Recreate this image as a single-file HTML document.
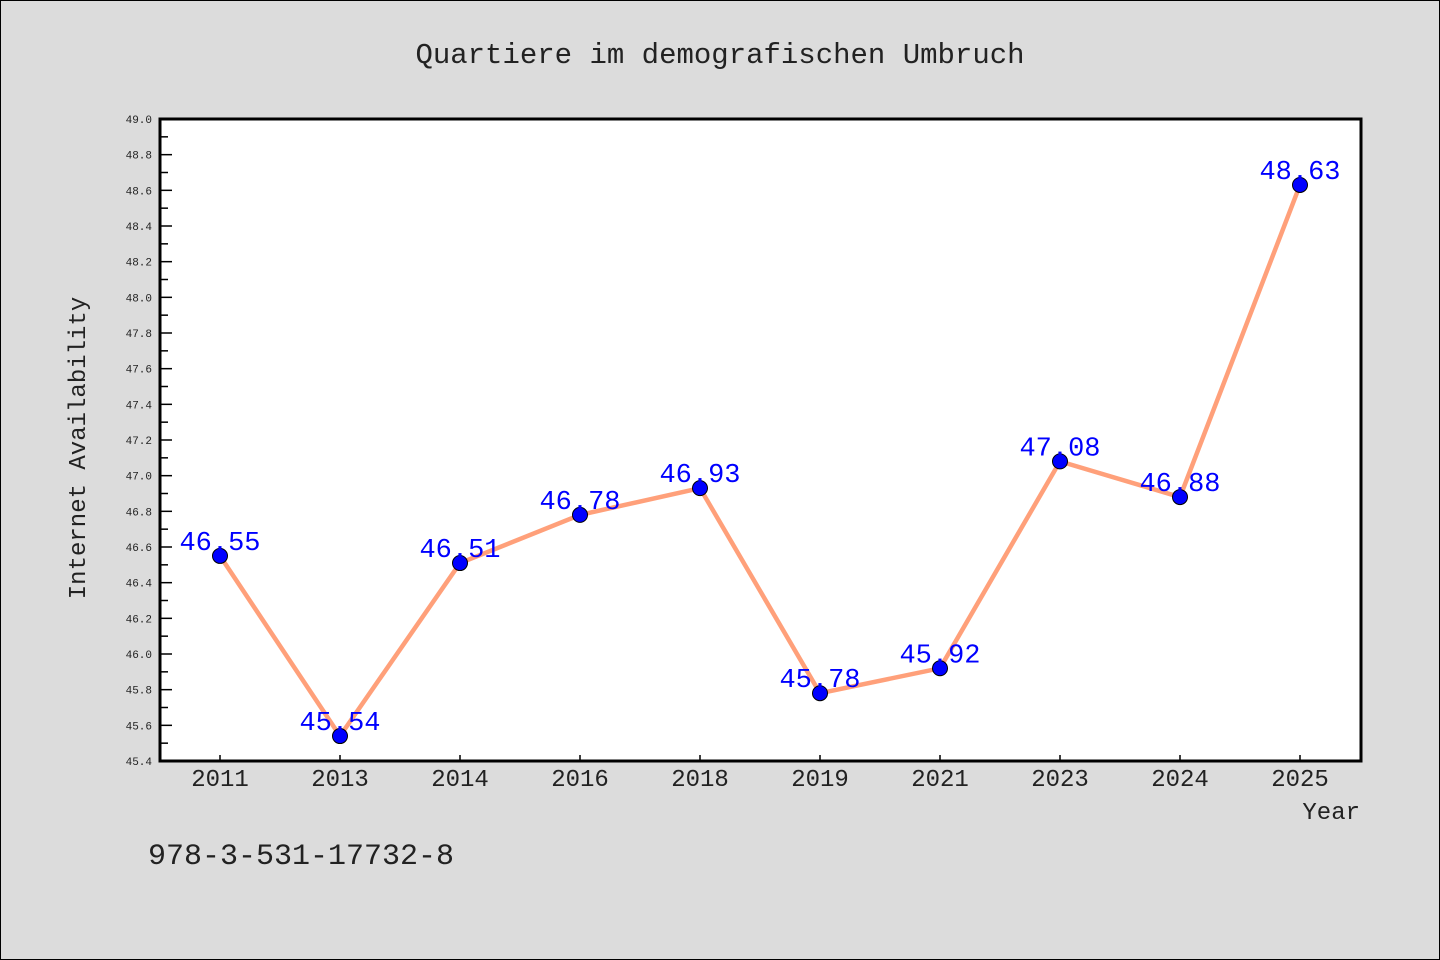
<!DOCTYPE html>
<html><head><meta charset="utf-8"><style>
html,body{margin:0;padding:0;background:#dcdcdc;}
svg{display:block;font-family:"WenQuanYi Zen Hei Mono","Liberation Mono",monospace;}
</style></head><body>
<svg id="chart" width="1440" height="960">
<rect x="0.5" y="0.5" width="1439" height="959" fill="#dcdcdc" stroke="#000"/>
<text x="720" y="63" text-anchor="middle" font-size="29" fill="#222">Quartiere im demografischen Umbruch</text>
<rect x="160" y="119" width="1201" height="642" fill="#fff"/>
<g id="axes"></g>
<g id="series"></g>
<rect x="160" y="119" width="1201" height="642" fill="none" stroke="#000" stroke-width="3"/>
<text x="1360" y="819" text-anchor="end" font-size="24" fill="#222">Year</text>
<text transform="translate(85,448) rotate(-90)" text-anchor="middle" font-size="24" fill="#222">Internet Availability</text>
<text x="148" y="864" font-size="30" fill="#222">978-3-531-17732-8</text>
</svg>
<script>
const categories = ["2011","2013","2014","2016","2018","2019","2021","2023","2024","2025"];
const values = [46.55,45.54,46.51,46.78,46.93,45.78,45.92,47.08,46.88,48.63];
const yTicks = ["45.4","45.6","45.8","46.0","46.2","46.4","46.6","46.8","47.0","47.2","47.4","47.6","47.8","48.0","48.2","48.4","48.6","48.8","49.0"];
const yMin=45.4,yMax=49.0,plotTop=119,plotBot=761,plotLeft=160;
const NS="http://www.w3.org/2000/svg";
const yScale=v=>plotBot-(v-yMin)/(yMax-yMin)*(plotBot-plotTop);
const xScale=i=>220+i*120;
function mk(t,a,p){const e=document.createElementNS(NS,t);for(const k in a)e.setAttribute(k,a[k]);p.appendChild(e);return e;}
const axesG=document.getElementById('axes'), serG=document.getElementById('series');
yTicks.forEach(t=>{const v=parseFloat(t),yy=yScale(v);
 const l=mk('line',{x1:plotLeft,x2:plotLeft+12,y1:yy,y2:yy,stroke:'#000','stroke-width':1.5},axesG);
 
 
 if(v+0.1<yMax){
  const m=mk('line',{x1:plotLeft,x2:plotLeft+8,y1:yScale(v+0.1),y2:yScale(v+0.1),stroke:'#000','stroke-width':1.5},axesG);
  
  
 }
 const tx=mk('text',{x:152,y:yy+4,'text-anchor':'end','font-size':11,fill:'#222'},axesG);tx.textContent=t;
 
 
});
categories.forEach((c,i)=>{
 const l=mk('line',{x1:xScale(i),x2:xScale(i),y1:plotBot,y2:plotBot-6,stroke:'#000','stroke-width':1.5},axesG);
 
 
 const tx=mk('text',{x:xScale(i),y:786,'text-anchor':'middle','font-size':24,fill:'#222'},axesG);tx.textContent=c;
 
 
});
const pl=mk('polyline',{points:values.map((v,i)=>xScale(i)+','+yScale(v)).join(' '),fill:'none',stroke:'#ffa07a','stroke-width':4.5},serG);


values.forEach((v,i)=>{
 const c=mk('circle',{cx:xScale(i),cy:yScale(v),r:7.5,fill:'#0000ff',stroke:'#000','stroke-width':1},serG);
 
 
});
values.forEach((v,i)=>{
 const t=mk('text',{x:xScale(i),y:yScale(v)-6,'text-anchor':'middle','font-size':27,fill:'#0000ff'},serG);t.textContent=v.toFixed(2);
 
 
});
</script>
</body></html>
